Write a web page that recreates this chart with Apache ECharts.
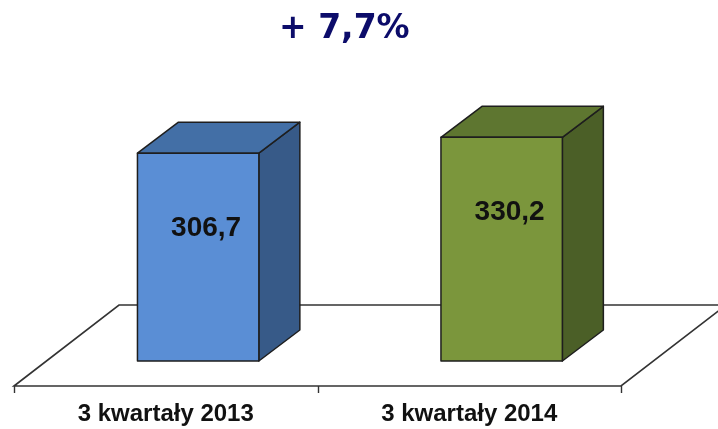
<!DOCTYPE html>
<html>
<head>
<meta charset="utf-8">
<script src="https://cdn.jsdelivr.net/npm/echarts@6/dist/echarts.min.js"></script>
<style>html,body{margin:0;padding:0;background:#fff}#c{width:718px;height:429px}</style>
</head>
<body>
<div id="c"></div>
<script>
var categories = ['3 kwartały 2013', '3 kwartały 2014'];
var values = [306.7, 330.2];
var titleText = '+ 7,7%';

var faceColors = [
  { front: '#5a8ed5', top: '#436fa6', side: '#375a88' },
  { front: '#7b963c', top: '#5e7630', side: '#4b5f27' }
];

var FLOOR_DX = 105, FLOOR_DY = 81;       // floor depth projection
var BAR_DX = 41, BAR_DY = 31;            // bar depth projection
var BAR_INSET = 25;                      // bar front offset into floor (vertical px)
var BAR_W = 0.40;                        // fraction of band
var EDGE = '#1e1e1e';

var chart = echarts.init(document.getElementById('c'), null, { renderer: 'canvas' });

function fmt(v) { return v.toFixed(1).replace('.', ','); }

chart.setOption({
  animation: false,
  backgroundColor: '#ffffff',
  title: {
    text: titleText,
    left: 274, top: 8,
    textStyle: { fontFamily: 'DejaVu Sans', fontWeight: 'bold', fontSize: 33, color: '#0c0c6a' }
  },
  grid: { left: 14, right: 97, top: 90, bottom: 68 },
  xAxis: {
    type: 'category',
    data: categories,
    axisLine: { show: false },
    axisTick: { show: false },
    axisLabel: {
      margin: 41,
      fontFamily: 'Liberation Sans', fontWeight: 'bold', fontSize: 24, color: '#111'
    }
  },
  yAxis: { type: 'value', min: 0, max: 400, show: false, splitLine: { show: false } },
  series: [
    {
      type: 'custom',
      silent: true,
      z: 1,
      data: [0],
      renderItem: function (params, api) {
        var cs = params.coordSys;
        var base = api.coord([0, 0])[1];
        var fy = base + BAR_INSET;
        var x0 = cs.x, x1 = cs.x + cs.width;
        var bw = api.size([1, 0])[0];
        var children = [
          { type: 'polygon', shape: { points: [[x0, fy], [x0 + FLOOR_DX, fy - FLOOR_DY], [x1 + FLOOR_DX, fy - FLOOR_DY], [x1, fy]] },
            style: { fill: '#ffffff', stroke: '#333333', lineWidth: 1.6 } }
        ];
        for (var i = 0; i <= categories.length; i++) {
          var tx = Math.round(x0 + i * bw) + 0.5;
          children.push({ type: 'line', shape: { x1: tx, y1: fy, x2: tx, y2: fy + 7 },
            style: { stroke: '#333333', lineWidth: 1.4 } });
        }
        return { type: 'group', children: children };
      }
    },
    {
      type: 'custom',
      z: 2,
      data: values.map(function (v, i) { return [i, v]; }),
      renderItem: function (params, api) {
        var i = api.value(0), v = api.value(1);
        var c = api.coord([i, v]);
        var b = api.coord([i, 0]);
        var bw = api.size([1, 0])[0];
        var w = bw * BAR_W;
        var shift = BAR_INSET * FLOOR_DX / FLOOR_DY;
        var cx = c[0] + shift;
        var l = cx - w / 2, r = cx + w / 2, t = c[1], bt = b[1];
        var col = faceColors[i];
        var st = { stroke: EDGE, lineWidth: 1.5, lineJoin: 'round' };
        return {
          type: 'group',
          children: [
            { type: 'polygon', shape: { points: [[r, t], [r + BAR_DX, t - BAR_DY], [r + BAR_DX, bt - BAR_DY], [r, bt]] },
              style: Object.assign({ fill: col.side }, st) },
            { type: 'polygon', shape: { points: [[l, t], [l + BAR_DX, t - BAR_DY], [r + BAR_DX, t - BAR_DY], [r, t]] },
              style: Object.assign({ fill: col.top }, st) },
            { type: 'rect', shape: { x: l, y: t, width: w, height: bt - t },
              style: Object.assign({ fill: col.front }, st) },
            { type: 'text', x: cx + 8, y: t + 75,
              style: { text: fmt(v), fontFamily: 'Liberation Sans', fontWeight: 'bold', fontSize: 28,
                fill: '#111', align: 'center', verticalAlign: 'middle' } }
          ]
        };
      }
    }
  ]
});
</script>
</body>
</html>
